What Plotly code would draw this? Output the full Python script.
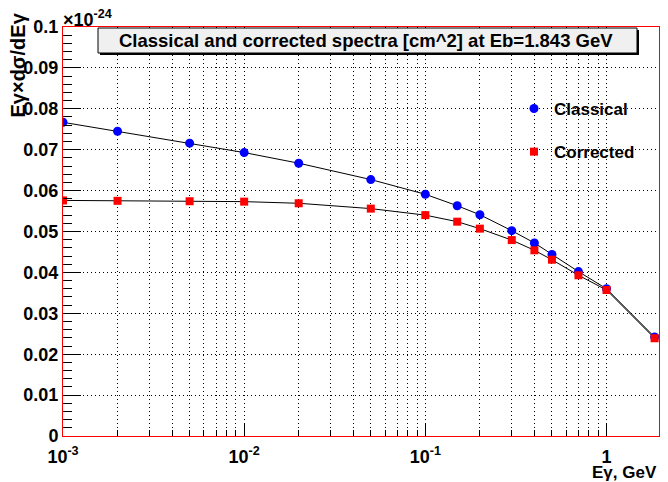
import plotly.graph_objects as go

# Data (values in units of 1e-24 cm^2)
egamma = [0.001, 0.002, 0.005, 0.01, 0.02, 0.05, 0.1, 0.15, 0.2, 0.3, 0.4, 0.5, 0.7, 1.0, 1.843]
classical = [0.0767, 0.0745, 0.0716, 0.0693, 0.0667, 0.0627, 0.0591, 0.0563, 0.0541, 0.0502,
             0.0472, 0.0444, 0.0402, 0.0360, 0.0242]
corrected = [0.0576, 0.0575, 0.0574, 0.0573, 0.0569, 0.0556, 0.0540, 0.0524, 0.0507, 0.0479,
             0.0454, 0.0431, 0.0393, 0.0357, 0.0239]
x_tickvals = [0.001, 0.01, 0.1, 1]
x_ticktext = ["10<sup>-3</sup>", "10<sup>-2</sup>", "10<sup>-1</sup>", "1"]
y_tickvals = [0, 0.01, 0.02, 0.03, 0.04, 0.05, 0.06, 0.07, 0.08, 0.09, 0.1]
y_ticktext = ["0", "0.01", "0.02", "0.03", "0.04", "0.05", "0.06", "0.07", "0.08", "0.09", "0.1"]
x_minor = [m * 10.0 ** k for k in (-3, -2, -1) for m in range(2, 10)]

# The page body has an 8px margin; lay out in screenshot pixels and convert.
OFF = 8
W, H = 668 - 2 * OFF, 482 - OFF
PL, PR, PT, PB = 63, 659, 27, 436          # plot area in screenshot pixels
L, R, T, B = PL - OFF, W - (PR - OFF), PT - OFF, H - (PB - OFF)
PW, PH = PR - PL, PB - PT

def px(X):
    return (X - PL) / PW

def py(Y):
    return (PB - Y) / PH

FONT = "Liberation Sans, Arial, Helvetica, sans-serif"
GRID = "1px,3px"

fig = go.Figure()

series = [("Classical", classical, "#0000ff", "circle", 9),
          ("Corrected", corrected, "#ff0000", "square", 8)]
for name, vals, col, sym, sz in series:
    fig.add_trace(go.Scatter(x=egamma, y=vals, mode="lines", line=dict(color="black", width=1),
                             showlegend=False, hoverinfo="skip"))
    fig.add_trace(go.Scatter(x=egamma, y=vals, mode="markers", name=name,
                             marker=dict(color=col, symbol=sym, size=sz, line=dict(width=0)),
                             legendgroup=name))

fig.update_layout(
    width=W, height=H,
    margin=dict(l=L, r=R, t=T, b=B, pad=0),
    paper_bgcolor="white", plot_bgcolor="white",
    font=dict(family=FONT, size=17, color="black", weight="bold"),
    legend=dict(x=px(514), y=py(91), xanchor="left", yanchor="top",
                bgcolor="rgba(0,0,0,0)", borderwidth=0,
                font=dict(size=17, weight="bold"), tracegroupgap=18,
                traceorder="grouped", itemwidth=30),
    xaxis=dict(type="log", range=[-3, 0.2898], automargin=False,
               tickmode="array", tickvals=x_tickvals, ticktext=x_ticktext,
               ticks="inside", ticklen=12, tickwidth=1, tickcolor="black",
               ticklabelstandoff=4,
               showgrid=True, gridcolor="black", griddash=GRID, gridwidth=1,
               showline=True, linecolor="red", linewidth=1, mirror=True,
               zeroline=False,
               tickfont=dict(size=18, weight="bold"),
               minor=dict(tickmode="array", tickvals=x_minor, ticks="inside", ticklen=6,
                          tickcolor="black", tickwidth=1, showgrid=True,
                          gridcolor="black", griddash=GRID, gridwidth=1)),
    yaxis=dict(range=[0, 0.1], automargin=False,
               tickmode="array", tickvals=y_tickvals, ticktext=y_ticktext,
               ticks="inside", ticklen=18, tickwidth=1, tickcolor="black",
               showgrid=True, gridcolor="black", griddash=GRID, gridwidth=1,
               showline=True, linecolor="red", linewidth=1, mirror=True,
               zeroline=False,
               tickfont=dict(size=18, weight="bold"),
               minor=dict(dtick=0.002, ticks="inside", ticklen=9, tickcolor="black",
                          tickwidth=1, showgrid=False)),
)

# Title pave: shadow then box
fig.add_shape(type="rect", xref="paper", yref="paper",
              x0=px(100), x1=px(639), y0=py(55), y1=py(30),
              fillcolor="black", line=dict(width=0), layer="above")
fig.add_shape(type="rect", xref="paper", yref="paper",
              x0=px(98), x1=px(637), y0=py(53), y1=py(28),
              fillcolor="#f0f0f0", line=dict(color="black", width=1), layer="above")

annotations = [
    dict(text="Classical and corrected spectra [cm^2] at Eb=1.843 GeV",
         x=px(366), y=py(40.5), xref="paper", yref="paper", xanchor="center", yanchor="middle",
         showarrow=False, font=dict(size=18.5, weight="bold")),
    dict(text="Eγ×dσ/dEγ", textangle=-90,
         x=px(17), y=py(11), xref="paper", yref="paper", xanchor="center", yanchor="top",
         showarrow=False, font=dict(size=20, weight="bold")),
    dict(text="×10<sup>-24</sup>",
         x=px(61), y=py(19), xref="paper", yref="paper", xanchor="left", yanchor="middle",
         showarrow=False, font=dict(size=18, weight="bold")),
    dict(text="Eγ, GeV",
         x=1.0, y=py(472), xref="paper", yref="paper", xanchor="right", yanchor="middle",
         showarrow=False, font=dict(size=17, weight="bold")),
]
fig.update_layout(annotations=annotations)

fig.write_html("out.html")
